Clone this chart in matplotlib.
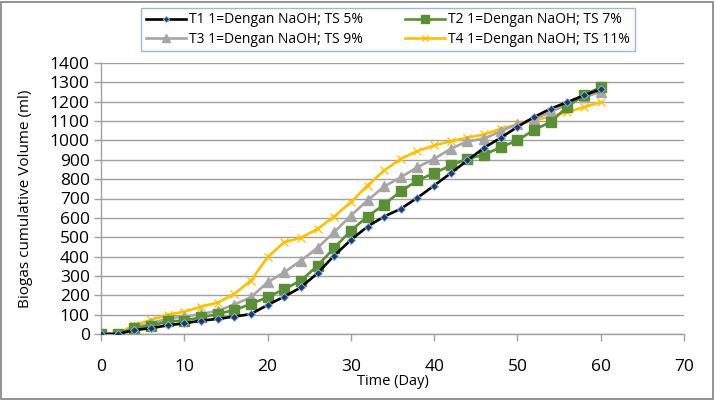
import matplotlib
matplotlib.use("Agg")
import matplotlib.pyplot as plt
from matplotlib.patches import Rectangle

days = list(range(0, 61, 2))
t1 = [0, 0, 20, 30, 45, 55, 69, 78, 90, 103, 150, 193, 241, 314, 405, 486, 555, 607,
      647, 704, 767, 831, 897, 962, 1014, 1070, 1121, 1164, 1198, 1233, 1265]
t2 = [0, 0, 29, 43, 65, 69, 86, 103, 124, 155, 190, 232, 276, 353, 445, 534, 607, 669,
      738, 793, 831, 871, 905, 926, 965, 1000, 1055, 1095, 1175, 1235, 1275]
t3 = [0, 0, 34, 55, 80, 90, 103, 120, 152, 190, 267, 319, 379, 445, 526, 612, 690, 762,
      810, 862, 905, 957, 996, 1009, 1048, 1083, 1112, 1146, 1190, 1224, 1250]
t4 = [0, 0, 47, 72, 100, 115, 141, 162, 207, 276, 397, 474, 497, 543, 607, 681, 767, 845,
      905, 945, 974, 996, 1014, 1031, 1060, 1083, 1103, 1124, 1146, 1172, 1198]
labels = ["T1 1=Dengan NaOH; TS 5%", "T2 1=Dengan NaOH; TS 7%",
          "T3 1=Dengan NaOH; TS 9%", "T4 1=Dengan NaOH; TS 11%"]
xticks = list(range(0, 71, 10))
yticks = list(range(0, 1401, 100))

plt.rcParams['font.family'] = ['Open Sans', 'DejaVu Sans']

fig = plt.figure(figsize=(7.15, 4.0), dpi=100)
ax = fig.add_axes([101/715, 1-334/400, (684-101)/715, (334-63)/400])

l1, = ax.plot(days, t1, color='black', lw=1.9, marker='D', ms=4,
              mfc='#1F3864', mec='#8DB4E2', mew=0.7, zorder=5)
l2, = ax.plot(days, t2, color='#5A8F35', lw=1.9, marker='s', ms=6.5,
              mfc='#5A8F35', mec='#5A8F35', zorder=4)
l3, = ax.plot(days, t3, color='#A6A6A6', lw=1.9, marker='^', ms=7,
              mfc='#A6A6A6', mec='#A6A6A6', zorder=3)
l4, = ax.plot(days, t4, color='#FFC000', lw=1.9, marker='x', ms=6,
              mec='#FFC000', mew=0.9, zorder=2)

ax.set_xlim(0, 70)
ax.set_ylim(0, 1400)
ax.set_xticks(xticks)
ax.set_yticks(yticks)
ax.tick_params(axis='both', labelsize=12.5, color='#A0A0A0', length=5, width=1)
ax.tick_params(axis='x', pad=13)
ax.tick_params(axis='y', pad=3)
ax.yaxis.grid(True, color='#A0A0A0', lw=1)
ax.set_axisbelow(True)
for s in ['top', 'right']:
    ax.spines[s].set_visible(False)
for s in ['left', 'bottom']:
    ax.spines[s].set_color('#A0A0A0')
    ax.spines[s].set_linewidth(1)

ax.set_xlabel("Time (Day)", fontsize=10.5, labelpad=-1)
ax.set_ylabel("Biogas cumulative Volume (ml)", fontsize=11, labelpad=12)

leg = fig.legend([l1, l3, l2, l4], [labels[0], labels[2], labels[1], labels[3]],
                 loc='center', bbox_to_anchor=(388/715, 1-29.5/400), ncol=2,
                 fontsize=10, frameon=True, fancybox=False, edgecolor='#7EA6D8',
                 handlelength=2.9, columnspacing=3.0, borderpad=0.35,
                 labelspacing=0.3, handletextpad=0.2, markerscale=0.8)
leg.get_frame().set_linewidth(1)

fig.patches.append(Rectangle((0.002, 0.003), 0.995, 0.993, transform=fig.transFigure,
                             fill=False, edgecolor='#808080', lw=1.2))

fig.savefig("out.png", dpi=100)
